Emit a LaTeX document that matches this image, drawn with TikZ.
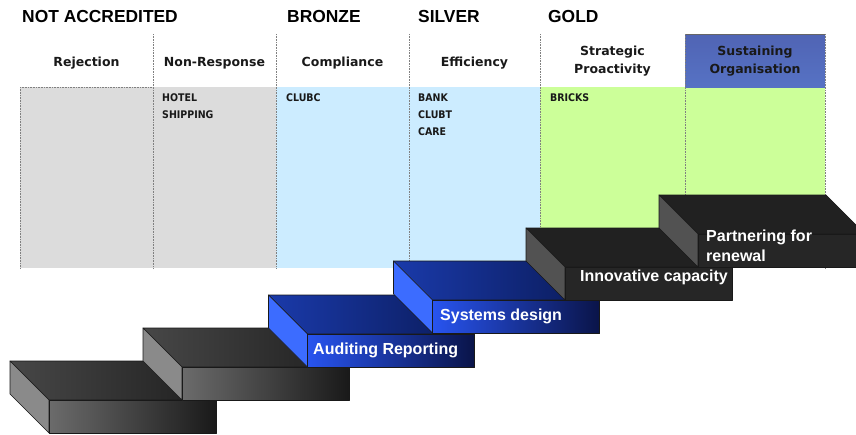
\documentclass[tikz,border=0pt]{standalone}
\usepackage{fontspec}
\setmainfont{Liberation Sans}
\newfontfamily\tahoma{DejaVu Sans}
\newfontfamily\narrow{DejaVu Sans Condensed}

\definecolor{rejgrey}{HTML}{DCDCDC}
\definecolor{silverblue}{HTML}{CCECFF}
\definecolor{goldgreen}{HTML}{CCFF99}

% one stair: front top-left corner at (#1,#2), colours from the #3 styles
\newcommand{\stair}[3]{%
    \draw[#3 top] (#1,#2) -- (#1+167,#2) -- (#1+128,#2-39) -- (#1-39,#2-39) -- cycle;
    \draw[#3 side] (#1,#2) -- (#1-39,#2-39) -- (#1-39,#2-6) -- (#1,#2+33) -- cycle;
    \draw[#3 front] (#1,#2) rectangle (#1+167,#2+33);
}

\tikzset{
    band/.style={font=\bfseries\fontsize{17.4}{20}\selectfont, anchor=west, inner sep=0pt},
    colhead/.style={font=\tahoma\bfseries\fontsize{12.5}{18}\selectfont, text=black!90, inner sep=0pt, align=center},
    member/.style={font=\narrow\bfseries\fontsize{10.5}{17}\selectfont, text=black!90, anchor=north west, inner sep=0pt, align=left},
    divider/.style={densely dotted, gray, line width=0.6pt},
    steplabel/.style={font=\bfseries\fontsize{16}{20}\selectfont, text=white, inner sep=0pt, align=left},
    stairline/.style={draw=black!90, line width=0.6pt, line join=round},
    grey top/.style={stairline, left color=black!72, right color=black!88},
    grey side/.style={stairline, fill=black!46},
    grey front/.style={stairline, left color=black!58, right color=black!90},
    blue top/.style={stairline, left color={rgb,255:red,26;green,58;blue,170}, right color={rgb,255:red,10;green,26;blue,88}},
    blue side/.style={stairline, fill={rgb,255:red,60;green,108;blue,255}},
    blue front/.style={stairline, left color={rgb,255:red,40;green,84;blue,240}, right color={rgb,255:red,10;green,20;blue,72}},
    dark top/.style={stairline, fill=black!87},
    dark side/.style={stairline, fill=black!68},
    dark front/.style={stairline, fill=black!85},
}

\begin{document}
\begin{tikzpicture}[x=1pt, y=-1pt]
    \useasboundingbox (0,0) rectangle (856,434);
    \clip (0,0) rectangle (856,434);

    % award bands
    \node[band] (notacc) at (22,16.7) {NOT ACCREDITED};
    \node[band] (bronze) at (287,16.7) {BRONZE};
    \node[band] (silver) at (418,16.7) {SILVER};
    \node[band] (gold) at (548,16.7) {GOLD};

    % table cells
    \fill[rejgrey] (20,87) rectangle (276,268);
    \fill[silverblue] (276,87) rectangle (540,268);
    \fill[goldgreen] (540,87) rectangle (825,268);
    \shade[top color={rgb,255:red,80;green,100;blue,180}, middle color={rgb,255:red,112;green,162;blue,250},
           bottom color={rgb,255:red,86;green,114;blue,196}] (685,34) rectangle (825,87);
    \draw[black!60, line width=0.6pt] (685,34) -- (825,34);

    % dotted column lines
    \foreach \x in {153,276,409,540,685}
        \draw[divider] (\x,34) -- (\x,268);
    \draw[divider] (20,87) -- (153,87);
    \draw[divider] (20,87) -- (20,268);
    \draw[divider] (825,34) -- (825,268);

    % column headings
    \node[colhead, anchor=base] (reject) at (86.5,66) {Rejection};
    \node[colhead, anchor=base] (nonresp) at (214.5,66) {Non-Response};
    \node[colhead, anchor=base] (comply) at (342.5,66) {Compliance};
    \node[colhead, anchor=base] (effic) at (474.5,66) {Efficiency};
    \node[colhead] (proact) at (612.5,61.5) {Strategic\\Proactivity};
    \node[colhead] (sustain) at (755,61.5) {Sustaining\\Organisation};

    % organisations in each column
    \node[member] (nonrespmem) at (162,94) {HOTEL\\SHIPPING};
    \node[member] (complymem) at (286,94) {CLUBC};
    \node[member] (efficmem) at (418,94) {BANK\\CLUBT\\CARE};
    \node[member] (proactmem) at (550,94) {BRICKS};

    % the staircase
    \stair{49}{400}{grey}
    \stair{182}{367}{grey}
    \stair{307.5}{334}{blue}
    \stair{432.5}{300}{blue}
    \stair{565}{267}{dark}
    \stair{698}{234}{dark}

    \node[steplabel, anchor=base west] (audit) at (313,354) {Auditing Reporting};
    \node[steplabel, anchor=base west] (sysdes) at (440,320) {Systems design};
    \node[steplabel, anchor=base west] (innov) at (580,281.7) {Innovative capacity};
    \node[steplabel, anchor=north west] (partner) at (706,229.5) {Partnering for\\renewal};
\end{tikzpicture}
\end{document}
